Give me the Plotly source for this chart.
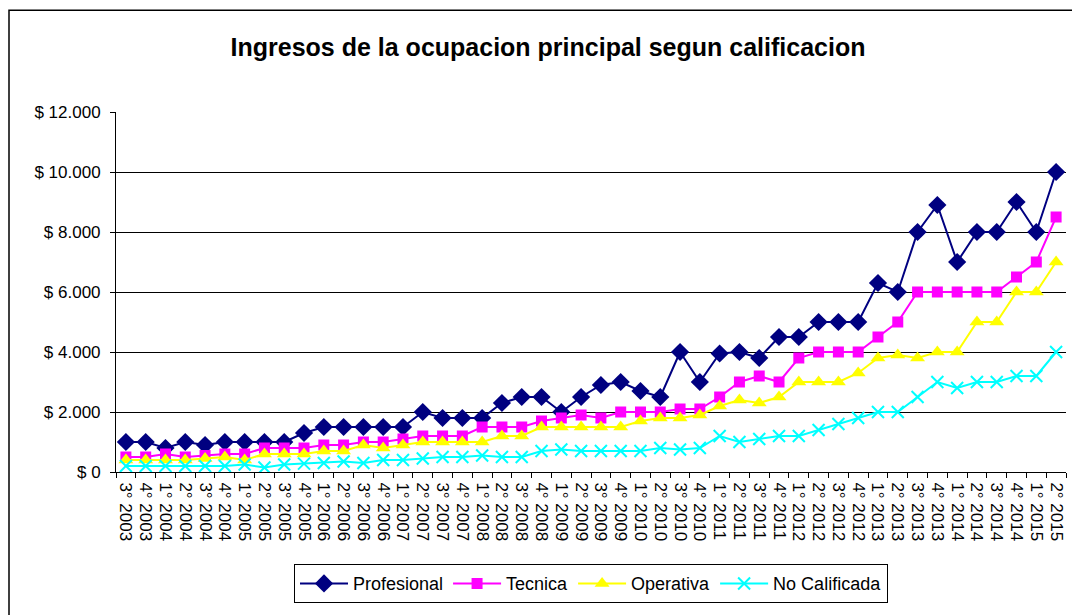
import plotly.graph_objects as go

quarters = (["3° 2003", "4° 2003"]
            + [f"{q}° {y}" for y in range(2004, 2015) for q in (1, 2, 3, 4)]
            + ["1° 2015", "2° 2015"])

profesional = [1000, 1000, 800, 1000, 900, 1000, 1000, 1000, 1000, 1300, 1500, 1500,
               1500, 1500, 1500, 2000, 1800, 1800, 1800, 2300, 2500, 2500, 2000, 2500,
               2900, 3000, 2700, 2500, 4000, 3000, 3950, 4000, 3800, 4500, 4500, 5000,
               5000, 5000, 6300, 6000, 8000, 8900, 7000, 8000, 8000, 9000, 8000, 10000]
tecnica = [500, 500, 600, 500, 550, 600, 600, 800, 800, 800, 900, 900,
           1000, 1000, 1100, 1200, 1200, 1200, 1500, 1500, 1500, 1700, 1800, 1900,
           1800, 2000, 2000, 2000, 2100, 2100, 2500, 3000, 3200, 3000, 3800, 4000,
           4000, 4000, 4500, 5000, 6000, 6000, 6000, 6000, 6000, 6500, 7000, 8500]
operativa = [400, 400, 400, 400, 450, 500, 400, 600, 600, 600, 700, 700,
             900, 800, 900, 1000, 1000, 1000, 1000, 1200, 1200, 1500, 1500, 1500,
             1500, 1500, 1700, 1800, 1800, 1900, 2200, 2400, 2300, 2500, 3000, 3000,
             3000, 3300, 3800, 3900, 3800, 4000, 4000, 5000, 5000, 6000, 6000, 7000]
no_calificada = [200, 200, 200, 200, 200, 200, 250, 150, 250, 280, 300, 350,
                 300, 400, 400, 450, 500, 500, 550, 500, 500, 700, 750, 700,
                 700, 700, 700, 800, 750, 800, 1200, 1000, 1100, 1200, 1200, 1400,
                 1600, 1800, 2000, 2000, 2500, 3000, 2800, 3000, 3000, 3200, 3200, 4000]

ytick_vals = [0, 2000, 4000, 6000, 8000, 10000, 12000]
ytick_text = ["$ 0", "$ 2.000", "$ 4.000", "$ 6.000", "$ 8.000", "$ 10.000", "$ 12.000"]

series = [
    ("Profesional", profesional, "#000080", dict(symbol="diamond", size=14, color="#000080")),
    ("Tecnica", tecnica, "#FF00FF", dict(symbol="square", size=11, color="#FF00FF")),
    ("Operativa", operativa, "#FFFF00", dict(symbol="triangle-up", size=13, color="#FFFF00")),
    ("No Calificada", no_calificada, "#00FFFF",
     dict(symbol="x-thin-open", size=12, color="#00FFFF", line=dict(width=2, color="#00FFFF"))),
]

fig = go.Figure()
for name, vals, col, mk in series:
    fig.add_trace(go.Scatter(x=quarters, y=vals, name=name, mode="lines+markers",
                             line=dict(color=col, width=2), marker=mk))

# the page body adds an 8px offset; work in figure coordinates (window - 8)
OFF = 8
W, H = 1080 - OFF, 615 - OFF
L, R, T, B = 116 - OFF, 1066 - OFF, 112 - OFF, 476 - OFF
pw, ph = R - L, B - T

def px(x):
    return (x - OFF - L) / pw

def py(y):
    return (B - (y - OFF)) / ph

fig.update_layout(
    width=W, height=H,
    margin=dict(l=L, r=W - R, t=T, b=H - B, pad=0),
    paper_bgcolor="white", plot_bgcolor="white",
    font=dict(family="Liberation Sans, Arial, sans-serif", color="black", size=16),
    title=dict(text="<b>Ingresos de la ocupacion principal segun calificacion</b>",
               x=(548 - OFF) / W, xanchor="center", y=1 - (47 - OFF) / H, yanchor="middle",
               font=dict(size=25, color="black")),
    showlegend=True,
    legend=dict(orientation="h", x=px(591), xanchor="center", y=py(589), yanchor="middle",
                bordercolor="black", borderwidth=1, bgcolor="white",
                font=dict(size=18), itemwidth=48, traceorder="normal"),
    xaxis=dict(type="category", tickmode="array", tickvals=quarters, ticktext=quarters,
               tickangle=90, tickson="boundaries", ticks="outside",
               ticklen=5, tickcolor="black", showline=True, linecolor="black", linewidth=1,
               showgrid=False, tickfont=dict(size=17), ticklabelstandoff=6, automargin=False,
               range=[-0.5, len(quarters) - 0.5]),
    yaxis=dict(range=[0, 12000], tickvals=ytick_vals, ticktext=ytick_text, ticks="outside",
               ticklen=5, tickcolor="black", showline=True, linecolor="black", linewidth=1,
               showgrid=True, gridcolor="black", gridwidth=1, zeroline=False,
               tickfont=dict(size=17), ticklabelstandoff=6, automargin=False),
)

# outer chart frame
fig.add_shape(type="rect", xref="paper", yref="paper",
              x0=(1 - L) / pw, x1=px(1075), y0=(B - 1) / ph, y1=py(640),
              line=dict(color="black", width=1.5), fillcolor="rgba(0,0,0,0)", layer="below")

fig.write_html("out.html")
